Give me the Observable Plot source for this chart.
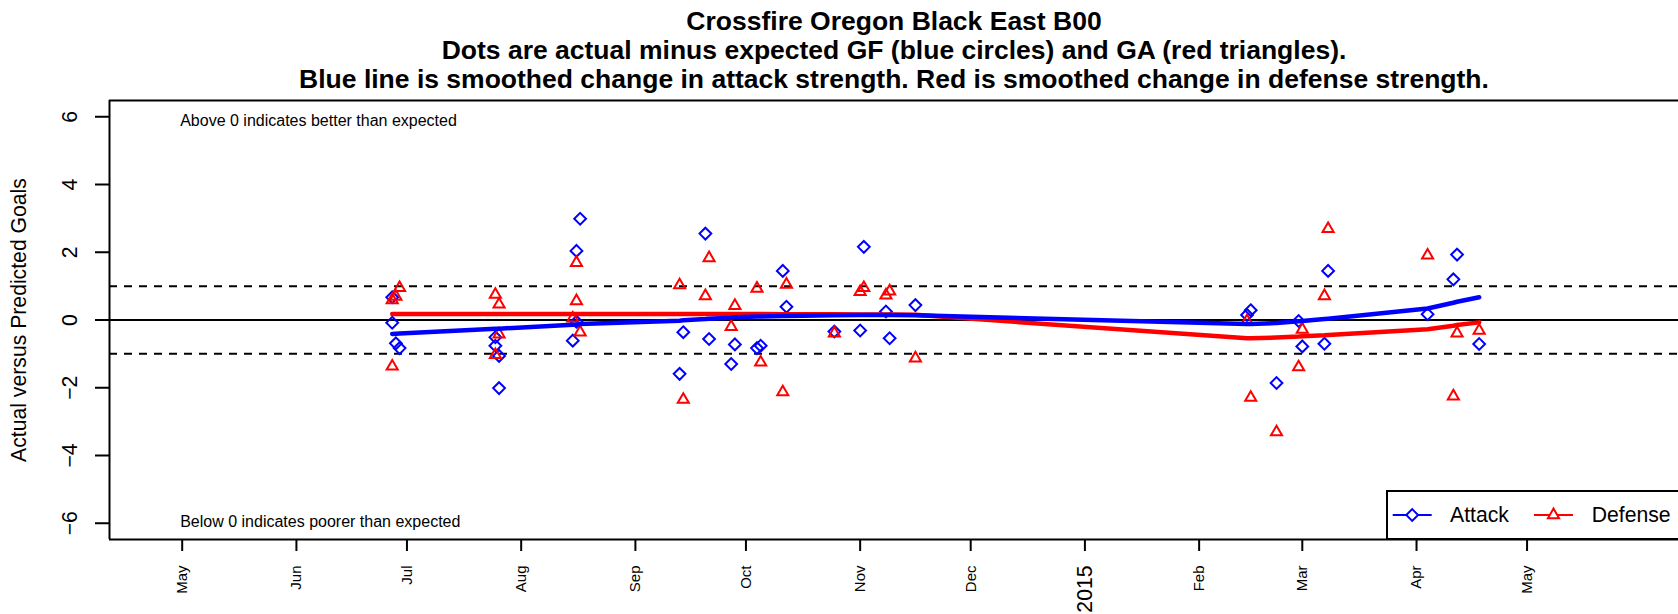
<!DOCTYPE html>
<html>
<head>
<meta charset="utf-8">
<script src="https://cdn.jsdelivr.net/npm/d3@7"></script>
<script src="https://cdn.jsdelivr.net/npm/@observablehq/plot@0.6"></script>
<style>
  html, body { margin: 0; padding: 0; background: #fff; overflow: hidden; }
  #wrap { position: relative; width: 1678px; height: 614px; overflow: hidden; background: #fff; }
  #wrap svg { display: block; }
  #legend { position: absolute; left: 1386px; top: 490px; }
</style>
</head>
<body>
<div id="wrap"></div>
<script>
// ---------------- data ----------------
const gameDates = [
  "2014-06-27","2014-06-27","2014-06-28","2014-06-29",
  "2014-07-25","2014-07-25","2014-07-26","2014-07-26",
  "2014-08-15","2014-08-16","2014-08-16","2014-08-17",
  "2014-09-13","2014-09-14","2014-09-20","2014-09-21",
  "2014-09-27","2014-09-28","2014-10-04","2014-10-05",
  "2014-10-11","2014-10-12","2014-10-25",
  "2014-11-01","2014-11-02","2014-11-08","2014-11-09","2014-11-16",
  "2015-02-14","2015-02-15","2015-02-22","2015-02-28","2015-03-01",
  "2015-03-07","2015-03-08",
  "2015-04-04","2015-04-11","2015-04-12","2015-04-18"
];
const attack = [
  0.67, -0.08, -0.69, -0.83,
  -0.51, -0.76, -1.06, -2.01,
  -0.61, -0.05, 2.04, 2.99,
  -1.59, -0.36, 2.55, -0.56,
  -1.30, -0.72, -0.83, -0.76,
  1.45, 0.39, -0.34,
  -0.31, 2.16, 0.25, -0.54, 0.44,
  0.15, 0.29, -1.86, -0.03, -0.78,
  -0.70, 1.45,
  0.17, 1.20, 1.93, -0.71
];
const defense = [
  0.59, -1.37, 0.69, 0.95,
  0.75, -1.03, 0.46, -0.42,
  0.05, 1.69, 0.56, -0.36,
  1.03, -2.35, 0.71, 1.83,
  -0.20, 0.42, 0.93, -1.25,
  -2.13, 1.05, -0.39,
  0.83, 0.95, 0.73, 0.85, -1.13,
  -0.03, -2.29, -3.31, -1.39, -0.28,
  0.71, 2.69,
  1.91, -2.25, -0.39, -0.31
];

const smoothDates = [
  "2014-06-27","2014-06-28","2014-06-29","2014-07-25","2014-07-26",
  "2014-08-15","2014-08-16","2014-08-17","2014-09-13","2014-09-14",
  "2014-09-20","2014-09-21","2014-09-27","2014-09-28","2014-10-04",
  "2014-10-05","2014-10-11","2014-10-12","2014-10-25","2014-11-01",
  "2014-11-02","2014-11-08","2014-11-09","2014-11-16",
  "2015-02-14","2015-02-15","2015-02-22","2015-02-28","2015-03-01",
  "2015-03-07","2015-03-08","2015-04-04","2015-04-11","2015-04-12","2015-04-18"
];
const attackSmooth = [
  -0.41, -0.405, -0.40, -0.26, -0.255,
  -0.14, -0.13, -0.12, -0.02, -0.01,
  0.03, 0.04, 0.07, 0.08, 0.10,
  0.10, 0.12, 0.12, 0.14, 0.15,
  0.15, 0.15, 0.15, 0.14,
  -0.12, -0.12, -0.09, -0.04, -0.03,
  0.03, 0.04, 0.34, 0.51, 0.54, 0.67
];
const defenseSmooth = [
  0.18, 0.18, 0.18, 0.18, 0.18,
  0.18, 0.18, 0.18, 0.18, 0.18,
  0.18, 0.18, 0.18, 0.18, 0.175,
  0.175, 0.17, 0.17, 0.17, 0.165,
  0.165, 0.16, 0.16, 0.155,
  -0.54, -0.54, -0.52, -0.49, -0.48,
  -0.45, -0.44, -0.27, -0.17, -0.15, -0.07
];

const tickDates = [
  "2014-05-01","2014-06-01","2014-07-01","2014-08-01","2014-09-01","2014-10-01",
  "2014-11-01","2014-12-01","2015-01-01","2015-02-01","2015-03-01","2015-04-01","2015-05-01"
];
const tickLabels = ["May","Jun","Jul","Aug","Sep","Oct","Nov","Dec","2015","Feb","Mar","Apr","May"];
const yTicks = [-6, -4, -2, 0, 2, 4, 6];
const refLines = [-1, 1];

const titleLines = [
  "Crossfire Oregon Black East B00",
  "Dots are actual minus expected GF (blue circles) and GA (red triangles).",
  "Blue line is smoothed change in attack strength. Red is smoothed change in defense strength."
];
const yLabel = "Actual versus Predicted Goals";
const noteAbove = "Above 0 indicates better than expected";
const noteBelow = "Below 0 indicates poorer than expected";
const seriesNames = ["Attack", "Defense"];

// ---------------- build ----------------
const parse = s => new Date(s + "T00:00:00Z");
const games = gameDates.map((d, i) => ({date: parse(d), attack: attack[i], defense: defense[i]}));
const smooth = smoothDates.map((d, i) => ({date: parse(d), attack: attackSmooth[i], defense: defenseSmooth[i]}));
const ticks = tickDates.map((d, i) => ({date: parse(d), label: tickLabels[i], year: /^\d{4}$/.test(tickLabels[i])}));

const DAY = 86400000;
const base = Date.UTC(2014, 4, 1);
const xDomain = [new Date(base - 19.73 * DAY), new Date(base + 406.1 * DAY)];
const yDomain = [-6.48, 6.48];
const fmt = d => d < 0 ? "\u2212" + (-d) : String(d);
const BLUE = "#0000ff", RED = "#ff0000";
const FONT = "'Liberation Sans', Arial, Helvetica, sans-serif";
const R = 5.3;
const BASE_FS = 21.2;

const chart = Plot.plot({
  width: 1678,
  height: 614,
  marginLeft: 109,
  marginRight: 0,
  marginTop: 100,
  marginBottom: 75,
  x: {type: "utc", domain: xDomain, axis: null},
  y: {domain: yDomain, axis: null},
  style: {fontFamily: FONT, background: "white", color: "black", overflow: "visible"},
  marks: [
    Plot.ruleY(refLines, {stroke: "black", strokeWidth: 2, strokeDasharray: "8,7"}),
    Plot.ruleY([0], {stroke: "black", strokeWidth: 2}),
    Plot.dot(games, {x: "date", y: "attack", symbol: "diamond2", r: R, stroke: BLUE, strokeWidth: 2, fill: "none"}),
    Plot.dot(games, {x: "date", y: "defense", symbol: "triangle2", r: R, stroke: RED, strokeWidth: 2, fill: "none"}),
    Plot.line(smooth, {x: "date", y: "defense", stroke: RED, strokeWidth: 4.5}),
    Plot.line(smooth, {x: "date", y: "attack", stroke: BLUE, strokeWidth: 4.5}),
    // box (left, top, bottom)
    Plot.ruleY([yDomain[0], yDomain[1]], {stroke: "black", strokeWidth: 2}),
    Plot.ruleX([xDomain[0]], {stroke: "black", strokeWidth: 2}),
    // y axis
    Plot.axisY({ticks: yTicks, tickSize: 14, tickFormat: () => "", strokeWidth: 2}),
    Plot.text(yTicks, {y: d => d, text: fmt, frameAnchor: "left", dx: -39, rotate: -90,
      textAnchor: "middle", lineAnchor: "middle", fontSize: BASE_FS}),
    Plot.text([yLabel], {frameAnchor: "left", dx: -90, rotate: -90, textAnchor: "middle",
      lineAnchor: "middle", fontSize: BASE_FS}),
    // x axis
    Plot.axisX({ticks: ticks.map(d => d.date), tickSize: 12, tickFormat: () => "", strokeWidth: 2}),
    Plot.text(ticks.filter(d => !d.year), {x: "date", text: "label", frameAnchor: "bottom", dy: 26,
      rotate: -90, textAnchor: "end", lineAnchor: "middle", fontSize: 15}),
    Plot.text(ticks.filter(d => d.year), {x: "date", text: "label", frameAnchor: "bottom", dy: 26,
      rotate: -90, textAnchor: "end", lineAnchor: "middle", fontSize: BASE_FS}),
    // notes
    Plot.text([noteAbove], {x: () => parse("2014-05-01"), y: () => 6, textAnchor: "start",
      lineAnchor: "middle", dx: -2, dy: 4, fontSize: 16}),
    Plot.text([noteBelow], {x: () => parse("2014-05-01"), y: () => -6, textAnchor: "start",
      lineAnchor: "middle", dx: -2, dy: -1.5, fontSize: 16}),
    // titles
    Plot.text([titleLines[0]], {frameAnchor: "top", dy: -70.5, lineAnchor: "bottom", fontSize: 26.5, fontWeight: "bold"}),
    Plot.text([titleLines[1]], {frameAnchor: "top", dy: -41.5, lineAnchor: "bottom", fontSize: 26.5, fontWeight: "bold"}),
    Plot.text([titleLines[2]], {frameAnchor: "top", dy: -12.5, lineAnchor: "bottom", fontSize: 26.5, fontWeight: "bold"})
  ]
});
document.getElementById("wrap").appendChild(chart);

// ---------------- legend ----------------
const lg = d3.select("#wrap").append("svg")
  .attr("id", "legend").attr("width", 292).attr("height", 52)
  .style("font-family", FONT);
lg.append("rect").attr("x", 1).attr("y", 1).attr("width", 400).attr("height", 48)
  .attr("fill", "white").attr("stroke", "black").attr("stroke-width", 2);
const size = Math.PI * R * R;
const items = [
  {name: seriesNames[0], color: BLUE, sym: d3.symbolDiamond2, x0: 6.7, x1: 45.7, tx: 64},
  {name: seriesNames[1], color: RED, sym: d3.symbolTriangle2, x0: 148, x1: 187, tx: 205.7}
];
const cy = 25;
items.forEach(it => {
  lg.append("line").attr("x1", it.x0).attr("x2", it.x1).attr("y1", cy).attr("y2", cy)
    .attr("stroke", it.color).attr("stroke-width", 2);
  lg.append("path").attr("d", d3.symbol(it.sym, size)())
    .attr("transform", `translate(${(it.x0 + it.x1) / 2},${cy})`)
    .attr("fill", "white").attr("stroke", it.color).attr("stroke-width", 2);
  lg.append("text").attr("x", it.tx).attr("y", cy).attr("dy", "0.35em")
    .attr("font-size", BASE_FS).attr("fill", "black").text(it.name);
});
</script>
</body>
</html>
